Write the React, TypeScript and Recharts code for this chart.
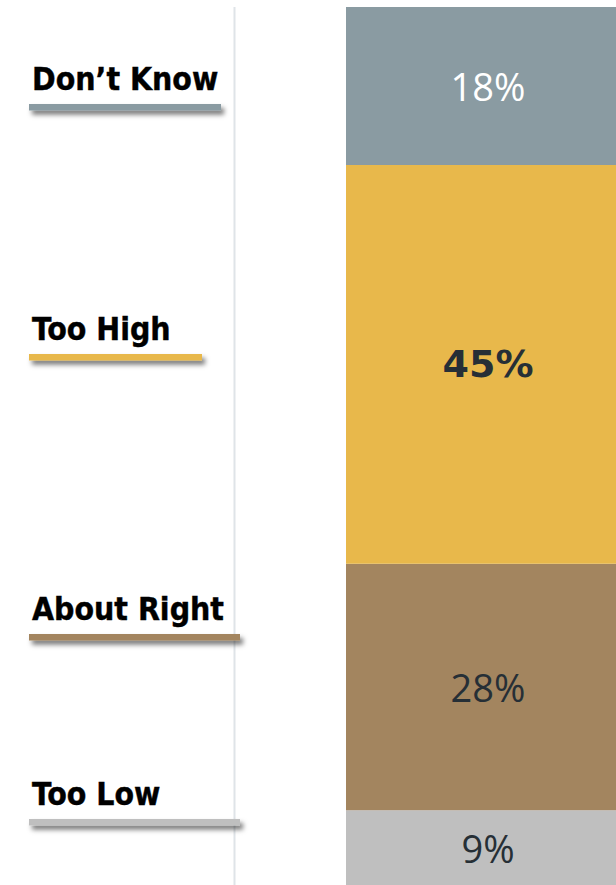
import React from "react";
import { BarChart, Bar, XAxis, YAxis, LabelList } from "recharts";

// ---- data ----
const categories = ["Too Low", "About Right", "Too High", "Don't Know"];
const keys = ["tooLow", "aboutRight", "tooHigh", "dontKnow"];
const values = [8.5, 28.1, 45.4, 18.0];
const legendLabels = ["Don\u2019t Know", "Too High", "About Right", "Too Low"];

// ---- styles / layout (not data) ----
const colors: Record<string, string> = {
  tooLow: "#BFBFBF",
  aboutRight: "#A3855F",
  tooHigh: "#E8B84B",
  dontKnow: "#8A9BA2",
};
const labelColors: Record<string, string> = {
  tooLow: "#262F36",
  aboutRight: "#262F36",
  tooHigh: "#262F36",
  dontKnow: "#FFFFFF",
};
const legendColors = ["#8A9BA2", "#E8B84B", "#A3855F", "#BFBFBF"];
const legendUnderlineTop = [104, 354, 634, 819];
const legendUnderlineRight = [221, 202, 240, 240];

const row: Record<string, number | string> = { name: "all" };
keys.forEach((k, i) => {
  row[k] = values[i];
});
const data = [row];

const renderLabel = (key: string) => (props: any) => {
  const { x, y, width, height, value } = props;
  const bold = key === "tooHigh";
  return (
    <text
      x={x + width / 2}
      y={y + height / 2}
      textAnchor="middle"
      dominantBaseline="central"
      fill={labelColors[key]}
      fontFamily={bold ? "DejaVu Sans" : "Open Sans"}
      fontWeight={bold ? 700 : 400}
      fontSize={38}
    >
      {`${Math.round(Number(value))}%`}
    </text>
  );
};

export default function App() {
  return (
    <div
      style={{
        position: "fixed",
        left: 0,
        top: 0,
        width: 616,
        height: 885,
        overflow: "hidden",
        background: "#fff",
      }}
    >
      <BarChart
        width={640}
        height={885}
        data={data}
        margin={{ top: 7, right: 10, bottom: 0, left: 346 }}
        barCategoryGap={0}
      >
        <XAxis dataKey="name" hide />
        <YAxis hide domain={[0, 100]} />
        {keys.map((k, i) => (
          <Bar
            key={k}
            dataKey={k}
            name={categories[i]}
            stackId="a"
            fill={colors[k]}
            isAnimationActive={false}
          >
            <LabelList dataKey={k} content={renderLabel(k)} />
          </Bar>
        ))}
      </BarChart>
      <svg
        width={346}
        height={885}
        style={{ position: "absolute", left: 0, top: 0 }}
      >
        <defs>
          <filter id="sh" x="-10%" y="-100%" width="130%" height="400%">
            <feDropShadow dx="3" dy="4" stdDeviation="2.5" floodColor="#000" floodOpacity="0.55" />
          </filter>
        </defs>
        <rect x={233.5} y={7} width={2} height={878} fill="#DFE4E8" />
        {legendLabels.map((lab, i) => (
          <g key={lab}>
            <rect
              x={29}
              y={legendUnderlineTop[i]}
              width={legendUnderlineRight[i] - 29}
              height={6.5}
              fill={legendColors[i]}
              filter="url(#sh)"
            />
            <text
              x={32}
              y={legendUnderlineTop[i] - 14}
              fill="#000"
              fontFamily="DejaVu Sans Condensed, DejaVu Sans"
              fontWeight={700}
              fontSize={31.7}
              stroke="#000"
              strokeWidth={0.4}
              style={{ fontStretch: "condensed" }}
            >
              {lab}
            </text>
          </g>
        ))}
      </svg>
    </div>
  );
}
